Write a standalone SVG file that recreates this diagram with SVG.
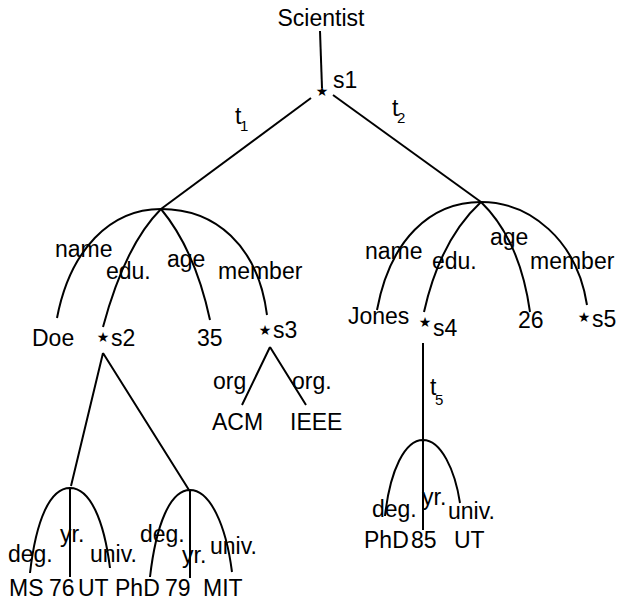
<svg xmlns="http://www.w3.org/2000/svg" width="622" height="612" viewBox="0 0 622 612">
<style>
text{font-family:"Liberation Sans",Arial,sans-serif;font-size:23px;fill:#000}
.sub{font-size:15px}
.star{font-family:"DejaVu Sans",sans-serif;font-size:14px}
.c{fill:none;stroke:#000;stroke-width:2}
</style>
<rect width="622" height="612" fill="#fff"/>
<g id="connectors" class="c">
<path d="M320,31 L322,88"/>
<path d="M311,98 L161,209"/>
<path d="M333,95 L481,202"/>
<path d="M57,318 C70,250 110,209 161,209 C215,209 258,245 267,315"/>
<path d="M161,209 Q125,245 103,327"/>
<path d="M161,209 Q195,250 210,320"/>
<path d="M270,347 L242,405 M270,347 L306,405"/>
<path d="M103,353 L71,486 M103,353 L189,490"/>
<path d="M30,573 C36,520 50,488 70,488 C90,488 104,520 110,568 M70,488 L70,577"/>
<path d="M150,577 C156,525 170,490 190,490 C210,490 226,525 232,572 M190,490 L190,578"/>
<path d="M377,310 C390,240 430,202 481,202 C530,202 577,240 587,305"/>
<path d="M481,202 Q440,240 424,312"/>
<path d="M481,202 Q520,240 530,312"/>
<path d="M423,343 L423,440"/>
<path d="M385,516 C390,470 405,440 423,440 C441,440 455,470 460,503 M423,440 L423,530"/>
</g>
<g id="scientist"><text x="321" y="26" text-anchor="middle">Scientist</text></g>
<g id="s1"><text class="star" x="322" y="96" text-anchor="middle">★</text><text x="333" y="88">s1</text></g>
<g id="t1"><text x="235" y="124">t</text><text class="sub" x="240" y="131">1</text></g>
<g id="t2"><text x="392" y="116">t</text><text class="sub" x="397" y="123">2</text></g>
<g id="labels-left">
<text x="55" y="257">name</text>
<text x="106" y="279">edu.</text>
<text x="167" y="267">age</text>
<text x="218" y="279">member</text>
</g>
<g id="doe"><text x="32" y="346">Doe</text></g>
<g id="s2"><text class="star" x="103" y="342" text-anchor="middle">★</text><text x="111" y="346">s2</text></g>
<g id="n35"><text x="197" y="346">35</text></g>
<g id="s3"><text class="star" x="265" y="335" text-anchor="middle">★</text><text x="273" y="338">s3</text></g>
<g id="s3-labels"><text x="213" y="389">org</text><text x="292" y="389">org.</text></g>
<g id="acm"><text x="212" y="430">ACM</text></g>
<g id="ieee"><text x="290" y="430">IEEE</text></g>
<g id="edu1-labels"><text x="8" y="562">deg.</text><text x="60" y="542">yr.</text><text x="90" y="562">univ.</text></g>
<g id="edu1-values"><text x="9" y="596">MS</text><text x="49" y="596">76</text><text x="78" y="596">UT</text></g>
<g id="edu2-labels"><text x="140" y="542">deg.</text><text x="182" y="563">yr.</text><text x="210" y="554">univ.</text></g>
<g id="edu2-values"><text x="115" y="596">PhD</text><text x="165" y="596">79</text><text x="203" y="596">MIT</text></g>
<g id="labels-right">
<text x="365" y="259">name</text>
<text x="432" y="269">edu.</text>
<text x="490" y="245">age</text>
<text x="530" y="269">member</text>
</g>
<g id="jones"><text x="348" y="324">Jones</text></g>
<g id="s4"><text class="star" x="425" y="327" text-anchor="middle">★</text><text x="433" y="336">s4</text></g>
<g id="n26"><text x="518" y="328">26</text></g>
<g id="s5"><text class="star" x="584" y="322" text-anchor="middle">★</text><text x="592" y="327">s5</text></g>
<g id="t5"><text x="430" y="395">t</text><text class="sub" x="435" y="405">5</text></g>
<g id="edu3-labels"><text x="372" y="517">deg.</text><text x="422" y="505">yr.</text><text x="448" y="519">univ.</text></g>
<g id="edu3-values"><text x="364" y="548">PhD</text><text x="411" y="548">85</text><text x="454" y="548">UT</text></g>
</svg>
